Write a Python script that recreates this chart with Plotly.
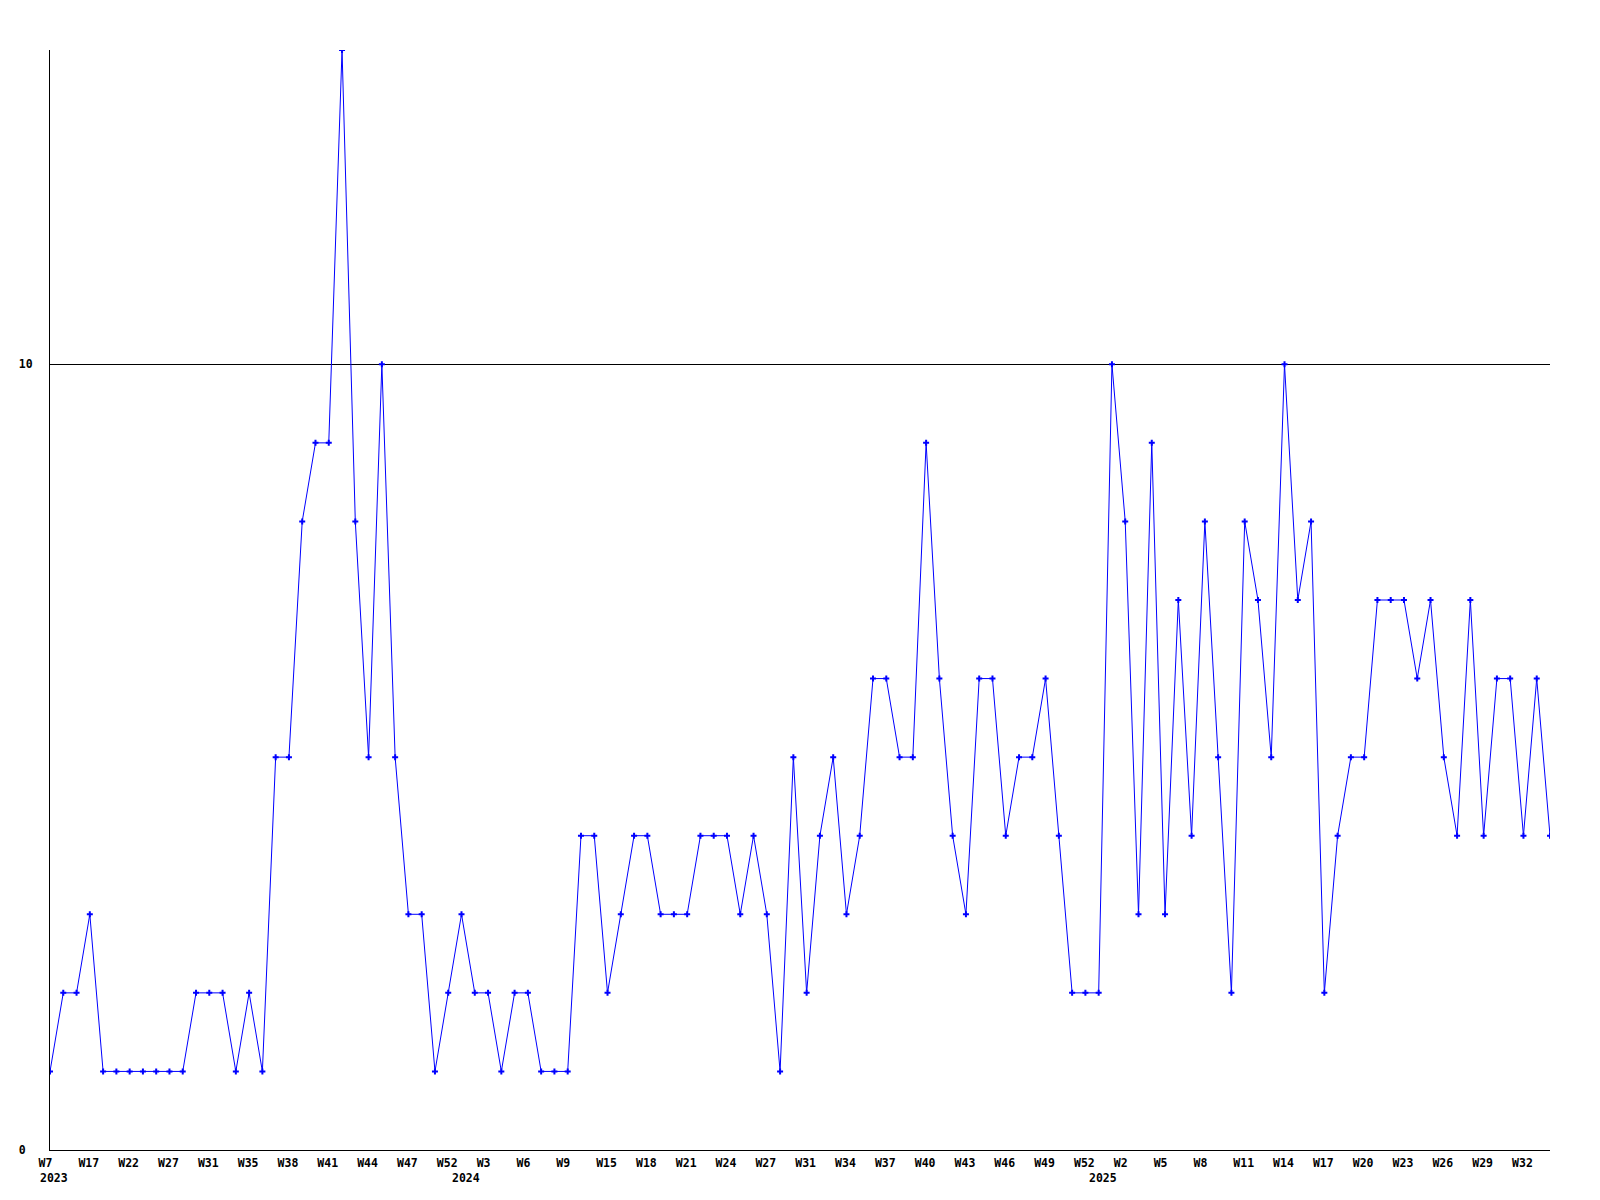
import plotly.graph_objects as go

# --- data -------------------------------------------------------------
years = [2023] * 31 + [2024] * 48 + [2025] * 35
weeks = [
    "W7", "W12", "W15", "W17", "W19", "W21", "W22", "W24", "W26", "W27",
    "W29", "W30", "W31", "W33", "W34", "W35", "W36", "W37", "W38", "W39",
    "W40", "W41", "W42", "W43", "W44", "W45", "W46", "W47", "W49", "W51",
    "W52",
    "W1", "W2", "W3", "W4", "W5", "W6", "W7", "W8", "W9", "W11",
    "W13", "W15", "W16", "W17", "W18", "W19", "W20", "W21", "W22", "W23",
    "W24", "W25", "W26", "W27", "W28", "W30", "W31", "W32", "W33", "W34",
    "W35", "W36", "W37", "W38", "W39", "W40", "W41", "W42", "W43", "W44",
    "W45", "W46", "W47", "W48", "W49", "W50", "W51", "W52",
    "W0", "W1", "W2", "W3", "W4", "W5", "W6", "W7", "W8", "W9",
    "W10", "W11", "W12", "W13", "W14", "W15", "W16", "W17", "W18", "W19",
    "W20", "W21", "W22", "W23", "W24", "W25", "W26", "W27", "W28", "W29",
    "W30", "W31", "W32", "W33", "W34",
]
values = [
    1, 2, 2, 3, 1, 1, 1, 1, 1, 1,
    1, 2, 2, 2, 1, 2, 1, 5, 5, 8,
    9, 9, 14, 8, 5, 10, 5, 3, 3, 1,
    2, 3, 2, 2, 1, 2, 2, 1, 1, 1,
    4, 4, 2, 3, 4, 4, 3, 3, 3, 4,
    4, 4, 3, 4, 3, 1, 5, 2, 4, 5,
    3, 4, 6, 6, 5, 5, 9, 6, 4, 3,
    6, 6, 4, 5, 5, 6, 4, 2, 2, 2,
    10, 8, 3, 9, 3, 7, 4, 8, 5, 2,
    8, 7, 5, 10, 7, 8, 2, 4, 5, 5,
    7, 7, 7, 6, 7, 5, 4, 7, 4, 6,
    6, 4, 6, 4,
]
y_ticks = [0, 10]
y_max = 14
tick_step = 3

# --- figure -----------------------------------------------------------
categories = [f"{y}-{w}" for y, w in zip(years, weeks)]

FONT = dict(family="DejaVu Sans Mono", size=11.5, color="black", weight="bold")
NBSP = "\u00a0"


def left_pad(label, width):
    """Pad with trailing non-breaking spaces so monospace labels share a left edge."""
    return label + NBSP * (width - len(label))


fig = go.Figure()
fig.add_trace(go.Scatter(
    x=categories, y=values, mode="lines+markers",
    line=dict(color="#0000ff", width=1),
    marker=dict(symbol="cross", size=5, color="#0000ff", line=dict(width=0)),
    showlegend=False, hoverinfo="skip",
))

# year labels at the first point of each year
prev = None
for cat, yr in zip(categories, years):
    if yr != prev:
        fig.add_annotation(
            x=cat, y=0, xref="x", yref="paper", text=str(yr),
            showarrow=False, yanchor="top", xanchor="left",
            yshift=-19, xshift=-12, font=FONT,
        )
        prev = yr

tick_labels = [left_pad(w, 3) for w in weeks[::tick_step]]
y_labels = [left_pad(str(v), 2) for v in y_ticks]

fig.update_layout(
    width=1584, height=1184, autosize=False,
    margin=dict(l=42, r=42, t=42, b=42),
    paper_bgcolor="white", plot_bgcolor="white",
    font=FONT,
)
fig.update_xaxes(
    type="category", range=[0, len(values) - 1],
    tickmode="array", tickvals=categories[::tick_step], ticktext=tick_labels,
    showgrid=False, zeroline=False, ticks="",
    showline=True, linecolor="black", linewidth=1,
    tickfont=FONT, ticklabelshift=-1, ticklabelstandoff=2,
)
fig.update_yaxes(
    range=[0, y_max], tickmode="array", tickvals=y_ticks, ticktext=y_labels,
    showgrid=True, gridcolor="black", gridwidth=1, zeroline=False, ticks="",
    showline=True, linecolor="black", linewidth=1,
    tickfont=FONT, ticklabelstandoff=14,
)

fig.write_html("out.html")
